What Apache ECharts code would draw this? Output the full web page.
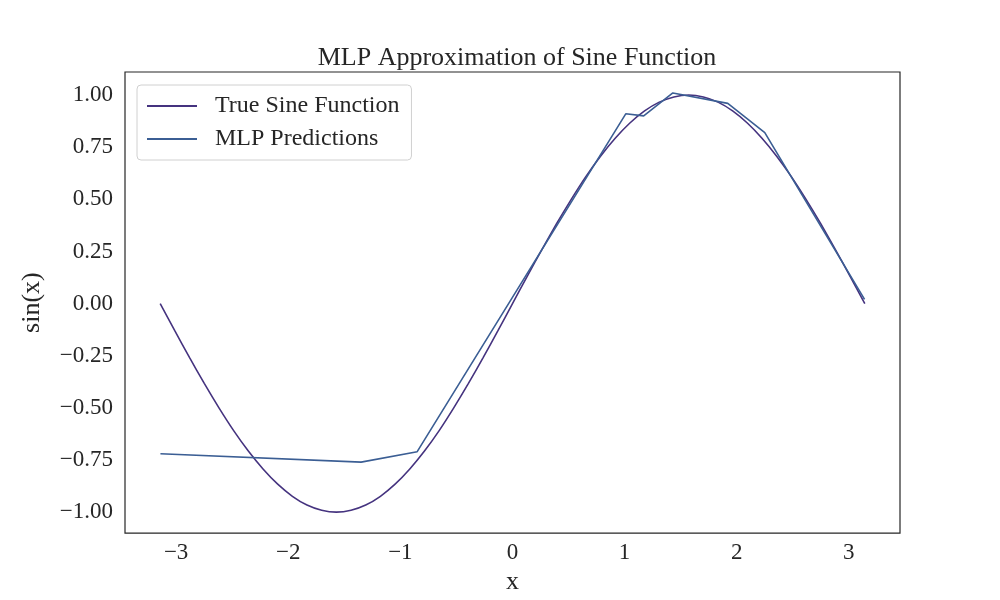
<!DOCTYPE html>
<html>
<head>
<meta charset="utf-8">
<script src="https://cdn.jsdelivr.net/npm/echarts@6/dist/echarts.min.js"></script>
<style>
  html, body { margin: 0; padding: 0; background: #fff; }
  #chart { width: 1000px; height: 600px; }
</style>
</head>
<body>
<div id="chart"></div>
<script>
// values
const sineX = [-3.142, -3.011, -2.880, -2.749, -2.618, -2.487, -2.356, -2.225, -2.094, -1.963, -1.833, -1.702, -1.571,
  -1.440, -1.309, -1.178, -1.047, -0.916, -0.785, -0.654, -0.524, -0.393, -0.262, -0.131, 0.000,
  0.131, 0.262, 0.393, 0.524, 0.654, 0.785, 0.916, 1.047, 1.178, 1.309, 1.440, 1.571,
  1.702, 1.833, 1.963, 2.094, 2.225, 2.356, 2.487, 2.618, 2.749, 2.880, 3.011, 3.142];
const sineY = [0.000, -0.131, -0.259, -0.383, -0.500, -0.609, -0.707, -0.793, -0.866, -0.924, -0.966, -0.991, -1.000,
  -0.991, -0.966, -0.924, -0.866, -0.793, -0.707, -0.609, -0.500, -0.383, -0.259, -0.131, 0.000,
  0.131, 0.259, 0.383, 0.500, 0.609, 0.707, 0.793, 0.866, 0.924, 0.966, 0.991, 1.000,
  0.991, 0.966, 0.924, 0.866, 0.793, 0.707, 0.609, 0.500, 0.383, 0.259, 0.131, 0.000];
const mlpX = [-3.14, -1.35, -0.85, 1.01, 1.17, 1.43, 1.92, 2.25, 3.14];
const mlpY = [-0.72, -0.76, -0.71, 0.91, 0.90, 1.01, 0.96, 0.82, 0.02];
const xTicks = [-3, -2, -1, 0, 1, 2, 3];
const yTicks = [-1.00, -0.75, -0.50, -0.25, 0.00, 0.25, 0.50, 0.75, 1.00];

const font = "'Liberation Serif', 'DejaVu Serif', serif";
const textColor = '#262626';

function pairs(xs, ys) {
    return xs.map((x, i) => [x, ys[i]]);
}
function minus(s) {
    return s.replace('-', '\u2212');
}

const myChart = echarts.init(document.getElementById('chart'));
var option = {
    animation: false,
    title: {
        text: 'MLP Approximation of Sine Function',
        left: 512,
        textAlign: 'center',
        top: 40,
        textStyle: {
            fontFamily: font,
            fontSize: 26,
            fontWeight: 'normal',
            color: textColor
        }
    },
    legend: {
        orient: 'vertical',
        left: 137,
        top: 85,
        padding: [9, 12, 9, 10],
        itemWidth: 50,
        itemHeight: 2,
        itemGap: 9,
        icon: 'rect',
        borderColor: '#d0d0d0',
        borderWidth: 1,
        borderRadius: 4,
        textStyle: {
            fontFamily: font,
            fontSize: 24,
            color: textColor,
            padding: [0, 0, 0, 13]
        },
        data: ['True Sine Function', 'MLP Predictions']
    },
    grid: {
        show: true,
        left: 125,
        right: 100,
        top: 72,
        bottom: 64,
        borderColor: '#262626',
        borderWidth: 1.2
    },
    xAxis: {
        type: 'value',
        min: -3.456,
        max: 3.456,
        name: 'x',
        nameLocation: 'middle',
        nameGap: 31,
        nameTextStyle: { fontFamily: font, fontSize: 26, color: textColor },
        axisLine: { show: false },
        axisTick: { show: false },
        splitLine: { show: false },
        axisLabel: {
            customValues: xTicks,
            margin: 8,
            fontFamily: font,
            fontSize: 23,
            color: textColor,
            formatter: v => minus(String(v))
        }
    },
    yAxis: {
        type: 'value',
        min: -1.1005,
        max: 1.1105,
        name: 'sin(x)',
        nameLocation: 'middle',
        nameGap: 80,
        nameTextStyle: { fontFamily: font, fontSize: 26, color: textColor },
        axisLine: { show: false },
        axisTick: { show: false },
        splitLine: { show: false },
        axisLabel: {
            customValues: yTicks,
            margin: 12,
            fontFamily: font,
            fontSize: 23,
            color: textColor,
            formatter: v => minus(v.toFixed(2))
        }
    },
    series: [
        {
            name: 'True Sine Function',
            type: 'line',
            data: pairs(sineX, sineY),
            smooth: 0.2,
            showSymbol: false,
            color: '#45337f',
            lineStyle: { width: 1.6, color: '#45337f' }
        },
        {
            name: 'MLP Predictions',
            type: 'line',
            data: pairs(mlpX, mlpY),
            showSymbol: false,
            color: '#3b5e94',
            lineStyle: { width: 1.6, color: '#3b5e94' }
        }
    ]
};
myChart.setOption(option);
</script>
</body>
</html>
